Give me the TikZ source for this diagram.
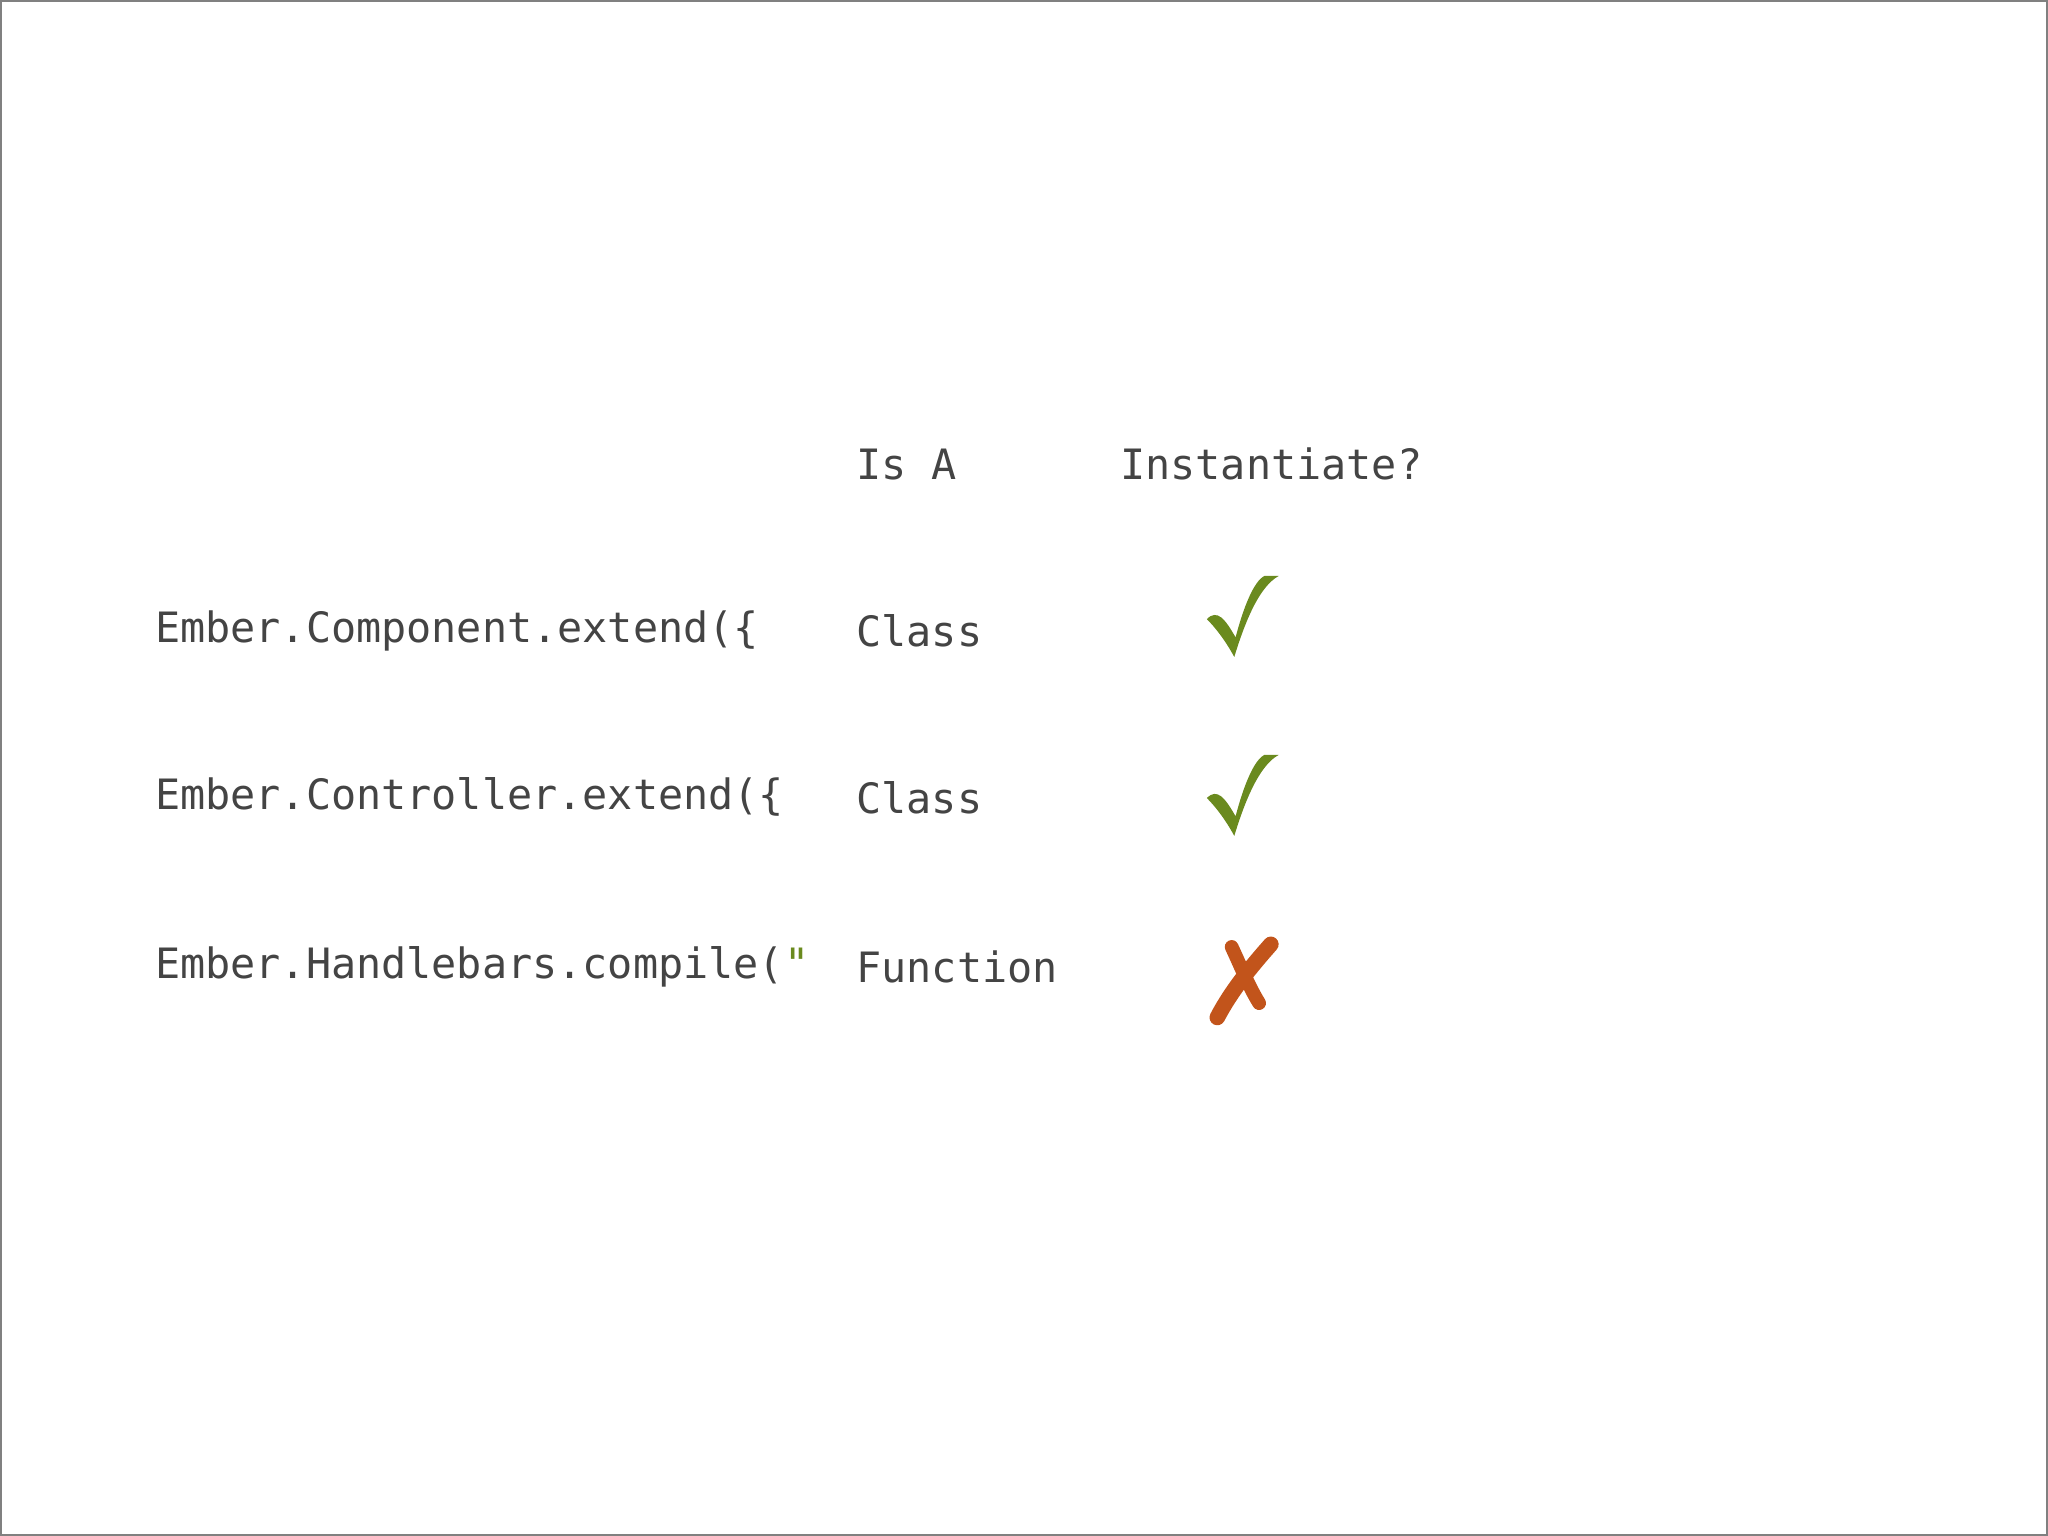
\documentclass[tikz,border=0pt]{standalone}
\usepackage{fontspec}
\setmonofont{DejaVu Sans Mono}
\definecolor{txt}{HTML}{444444}
\definecolor{okgreen}{HTML}{6A8A1E}
\definecolor{nored}{HTML}{C2541B}
\begin{document}
\begin{tikzpicture}[x=0.01cm,y=-0.01cm,
  lbl/.style={anchor=base west,inner sep=0pt,text=txt,font=\ttfamily\fontsize{9.1pt}{11pt}\selectfont}]
\useasboundingbox (0,0) rectangle (1568,1176);
\draw[gray,line width=0.6pt] (0.5,0.5) rectangle (1567.5,1175.5);
\node[lbl] (hisa) at (655,367) {Is A};
\node[lbl] (hinst) at (857,367) {Instantiate?};
\node[lbl] (c1) at (118,492) {Ember.Component.extend(\{};
\node[lbl] (c2) at (118,620) {Ember.Controller.extend(\{};
\node[lbl] (c3) at (118,749) {Ember.Handlebars.compile(\textcolor{okgreen}{"}};
\node[lbl] (t1) at (655,495) {Class};
\node[lbl] (t2) at (655,623) {Class};
\node[lbl] (t3) at (655,752) {Function};
\foreach \dy in {0,137}{
\fill[okgreen,yshift=-\dy*0.01cm] (924,474) .. controls (932,466) and (938,474) .. (946,488)
  .. controls (952,465) and (960,445) .. (968,441) -- (979,441)
  .. controls (966,448) and (955,470) .. (945,503)
  .. controls (938,490) and (930,480) .. (924,474) -- cycle;}
\draw[nored,line width=3pt,line cap=round] (943,725) .. controls (950,740) and (956,755) .. (964,768);
\draw[nored,line width=3.4pt,line cap=round] (973,723) .. controls (958,740) and (943,758) .. (932,779);
\end{tikzpicture}
\end{document}
